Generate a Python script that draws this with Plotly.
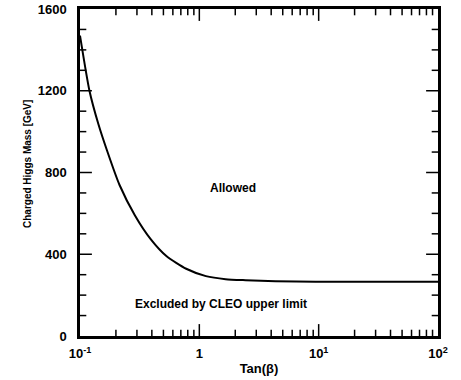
import plotly.graph_objects as go

# Data
tan_beta = [0.1, 0.120, 0.1425, 0.169, 0.214, 0.288, 0.391, 0.532, 0.776, 1.135,
            1.66, 2.44, 4.35, 9.4, 30, 100]
mass = [1470, 1200, 1037, 905, 740, 591, 474, 390, 329, 293,
        278, 273, 268, 266, 265, 265]

X_RANGE = [0.1, 100]
Y_RANGE = [0, 1600]
x_tickvals = [0.1, 1, 10, 100]
x_ticktext = ["10<sup>-1</sup>", "1", "10<sup>1</sup>", "10<sup>2</sup>"]
y_tickvals = [0, 400, 800, 1200, 1600]
x_minor = [k * 10 ** e for e in (-1, 0, 1) for k in range(2, 10)]
y_minor = [v for v in range(100, 1600, 100) if v % 400]

FONT = "Liberation Sans"
L, R, T, B = 80, 23, 9, 44
W, H = 461, 380
PW, PH = W - L - R, H - T - B


def px_to_paper(px, py):
    return (px - L) / PW, (H - B - py) / PH


fig = go.Figure()
fig.add_trace(go.Scatter(
    x=tan_beta, y=mass, mode="lines",
    line=dict(color="black", width=2, shape="spline", smoothing=0.6),
    hoverinfo="skip", showlegend=False,
))


def tick_marks(xs, ys, symbol, size):
    # markers centred on the frame; the outer half is clipped by the plot area
    fig.add_trace(go.Scatter(
        x=xs, y=ys, mode="markers", cliponaxis=True,
        marker=dict(symbol=symbol, size=size, color="black",
                    line=dict(color="black", width=1.5)),
        hoverinfo="skip", showlegend=False,
    ))


x_major_inner = x_tickvals[1:-1]
y_major_inner = y_tickvals[1:-1]
for yedge in Y_RANGE:
    tick_marks(x_minor, [yedge] * len(x_minor), "line-ns", 9)
    tick_marks(x_major_inner, [yedge] * len(x_major_inner), "line-ns", 17)
for xedge in X_RANGE:
    tick_marks([xedge] * len(y_minor), y_minor, "line-ew", 9)
    tick_marks([xedge] * len(y_major_inner), y_major_inner, "line-ew", 17)

ax_allowed = px_to_paper(233, 188)
ax_excl = px_to_paper(221, 304)
ax_ytitle = px_to_paper(27, 164)

frame = dict(showline=True, linewidth=2.5, linecolor="black", mirror=True,
             showgrid=False, zeroline=False, ticks="", automargin=False)

fig.update_layout(
    width=W, height=H,
    margin=dict(l=L, r=R, t=T, b=B, autoexpand=False),
    paper_bgcolor="white", plot_bgcolor="white",
    font=dict(family=FONT, color="black", size=12),
    xaxis=dict(
        type="log", range=[-1, 2],
        tickmode="array", tickvals=x_tickvals, ticktext=x_ticktext,
        tickfont=dict(family=FONT, size=13, color="black", weight="bold"),
        ticklabelstandoff=4,
        title=dict(text="Tan(β)", font=dict(family=FONT, size=13, color="black", weight="bold"),
                   standoff=4),
        **frame,
    ),
    yaxis=dict(
        range=Y_RANGE,
        tickmode="array", tickvals=y_tickvals,
        tickfont=dict(family=FONT, size=13, color="black", weight="bold"),
        ticklabelstandoff=8,
        **frame,
    ),
    annotations=[
        dict(text="Allowed", x=ax_allowed[0], y=ax_allowed[1], xref="paper", yref="paper",
             xanchor="center", yanchor="middle",
             showarrow=False, font=dict(family=FONT, size=12, weight="bold")),
        dict(text="Excluded by CLEO upper limit", x=ax_excl[0], y=ax_excl[1],
             xref="paper", yref="paper", xanchor="center", yanchor="middle",
             showarrow=False, font=dict(family=FONT, size=12, weight="bold")),
        dict(text="Charged Higgs Mass [GeV]", x=ax_ytitle[0], y=ax_ytitle[1],
             xref="paper", yref="paper", xanchor="center", yanchor="middle",
             showarrow=False, textangle=-90,
             font=dict(family=FONT, size=10, weight="bold")),
    ],
)

fig.write_html("out.html")
